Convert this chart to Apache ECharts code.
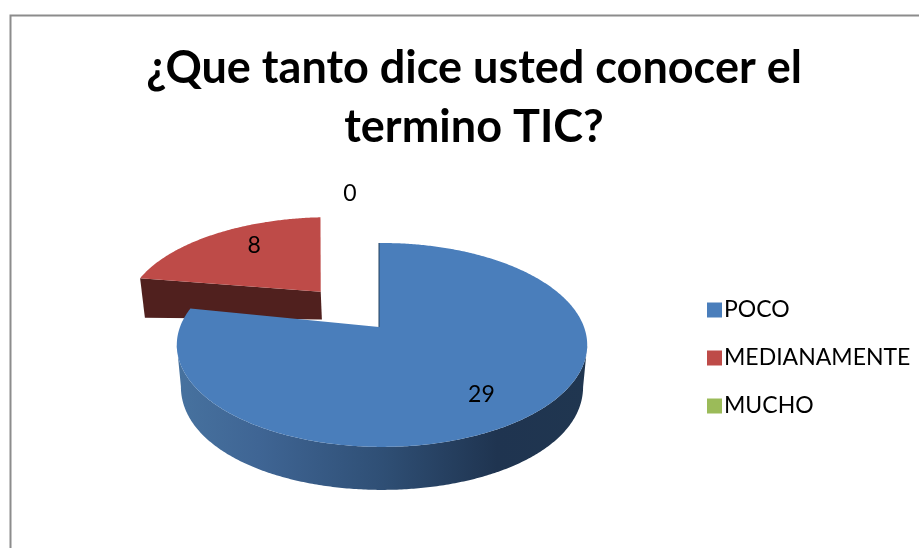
<!DOCTYPE html>
<html>
<head>
<meta charset="utf-8">
<title>TIC</title>
<script src="https://cdn.jsdelivr.net/npm/echarts@6/dist/echarts.min.js"></script>
<style>
  html, body { margin: 0; padding: 0; background: #fff; }
  #main { width: 919px; height: 548px; }
</style>
</head>
<body>
<div id="main"></div>
<script>
var categories = ['POCO', 'MEDIANAMENTE', 'MUCHO'];
var values = [29, 8, 0];
var colors = ['#4a7ebb', '#be4b48', '#9bbb59'];
var titleText = '¿Que tanto dice usted conocer el\ntermino TIC?';

// how far each slice is pulled out of the pie, in pie radii
var explode = [0, 0.49, 0];
// small turn of a slice in degrees, excel's projection is not a clean one
var turn = [-1, -3, 0];
// pixel nudges: tip of the slice only, and the whole slice
var tipNudge = [-3, 0, 0];
var sliceNudge = [[0, 0], [-3, 0], [0, 0]];
// where the number sits: radius along the slice middle + small pixel nudge
var labelSpot = [
  { r: 0.72, dx: -4, dy: 7 },
  { r: 0.6, dx: 1, dy: -11 },
  { r: 1.5, dx: -32, dy: -16 }
];

var total = values.reduce(function (a, b) { return a + b; }, 0);

// the perspective of the excel 3d pie
var cx = 382, cy = 327, rx = 202, ry = 98.8, k = 0.176;

function project(X, Y, bottom) {
  var w = 1 - k * Y;
  var x = cx + rx * X / w;
  var y = cy + ry * Y / w;
  if (bottom) {
    x = cx + (x - cx) * 0.98;
    y += 31.5 + 11.5 * Y + 8.5 * X * X;
  }
  return [x, y];
}

function sliceAngles(idx) {
  var before = 0;
  for (var i = 0; i < idx; i++) before += values[i];
  var t = turn[idx] * Math.PI / 180;
  return [before / total * Math.PI * 2 + t, (before + values[idx]) / total * Math.PI * 2 + t];
}

function rimPoints(idx, bottom) {
  var a = sliceAngles(idx);
  var mid = (a[0] + a[1]) / 2 - turn[idx] * Math.PI / 180;
  var ox = Math.sin(mid) * explode[idx], oy = -Math.cos(mid) * explode[idx];
  var n = sliceNudge[idx];
  var pts = [];
  var steps = Math.max(2, Math.ceil((a[1] - a[0]) / 0.01));
  for (var i = 0; i <= steps; i++) {
    var t = a[0] + (a[1] - a[0]) * i / steps;
    var p = project(ox + Math.sin(t), oy - Math.cos(t), bottom);
    pts.push([p[0] + n[0], p[1] + n[1]]);
  }
  var apex = project(ox, oy, bottom);
  apex[0] += n[0] + tipNudge[idx];
  apex[1] += n[1];
  return { pts: pts, apex: apex };
}

function wallFill(idx) {
  if (idx === 0) {
    return new echarts.graphic.LinearGradient(0, 0, 1, 0, [
      { offset: 0, color: '#47729f' },
      { offset: 0.2, color: '#3f6594' },
      { offset: 0.5, color: '#2f4f75' },
      { offset: 0.78, color: '#1f3450' },
      { offset: 1, color: '#203650' }
    ]);
  }
  return '#50201e';
}

// the visible outer wall runs between the left and right extremes of the rim
function wallPoints(top, low) {
  var iMin = 0, iMax = 0;
  top.pts.forEach(function (p, i) {
    if (p[0] < top.pts[iMin][0]) iMin = i;
    if (p[0] > top.pts[iMax][0]) iMax = i;
  });
  var from = Math.min(iMin, iMax), to = Math.max(iMin, iMax) + 1;
  return top.pts.slice(from, to).concat(low.pts.slice(from, to).reverse());
}

function renderSlice(params, api) {
  var idx = params.seriesIndex;
  var a = sliceAngles(idx);
  var mid = (a[0] + a[1]) / 2;
  var ox = Math.sin(mid) * explode[idx], oy = -Math.cos(mid) * explode[idx];
  var spot = labelSpot[idx];
  var lp = project(ox + Math.sin(mid) * spot.r, oy - Math.cos(mid) * spot.r, false);
  var children = [];

  if (api.value(0) > 0) {
    var top = rimPoints(idx, false);
    var low = rimPoints(idx, true);
    // a slice that stays in the back half shows no outer wall
    if (a[0] < Math.PI * 1.5) {
      children.push({
        type: 'polygon',
        shape: { points: wallPoints(top, low) },
        style: { fill: wallFill(idx) }
      });
    }
    // cut face at the start of the slice
    children.push({
      type: 'polygon',
      shape: { points: [top.apex, top.pts[0], low.pts[0], low.apex] },
      style: { fill: wallFill(idx) }
    });
    children.push({
      type: 'polygon',
      shape: { points: [top.apex].concat(top.pts) },
      style: { fill: colors[idx] }
    });
    if (idx === 0) {
      children.push({
        type: 'line',
        shape: { x1: top.apex[0], y1: top.apex[1], x2: top.pts[0][0], y2: top.pts[0][1] },
        style: { stroke: '#23405f', lineWidth: 1 }
      });
    }
  }
  children.push({
    type: 'text',
    style: {
      text: String(api.value(0)),
      x: lp[0] + spot.dx,
      y: lp[1] + spot.dy,
      align: 'center',
      verticalAlign: 'middle',
      fill: '#000',
      font: '23px Lato'
    }
  });
  return { type: 'group', children: children };
}

var series = categories.map(function (name, i) {
  return {
    type: 'custom',
    name: name,
    coordinateSystem: 'none',
    z: i === 0 ? 3 : 2,
    itemStyle: { color: colors[i] },
    renderItem: renderSlice,
    data: [[values[i]]]
  };
});

var mychart = echarts.init(document.getElementById('main'), null, { renderer: 'canvas' });
mychart.setOption({
  animation: false,
  backgroundColor: '#fff',
  color: colors,
  title: {
    text: titleText,
    left: 469,
    top: 34,
    textAlign: 'center',
    textStyle: { fontFamily: 'Lato', fontWeight: 'bold', fontSize: 45, lineHeight: 59, color: '#000' }
  },
  legend: {
    data: categories,
    orient: 'vertical',
    left: 702,
    top: 290,
    icon: 'rect',
    itemWidth: 15,
    itemHeight: 15,
    itemGap: 18,
    selectedMode: false,
    textStyle: { fontFamily: 'Lato', fontSize: 23, lineHeight: 30, color: '#000', padding: [0, 0, 0, -3] }
  },
  graphic: [{
    type: 'polyline',
    silent: true,
    shape: { points: [[10.5, 548], [10.5, 15.5], [919, 15.5]] },
    style: { stroke: '#8c8c8c', lineWidth: 2, fill: null }
  }],
  series: series
});
</script>
</body>
</html>
